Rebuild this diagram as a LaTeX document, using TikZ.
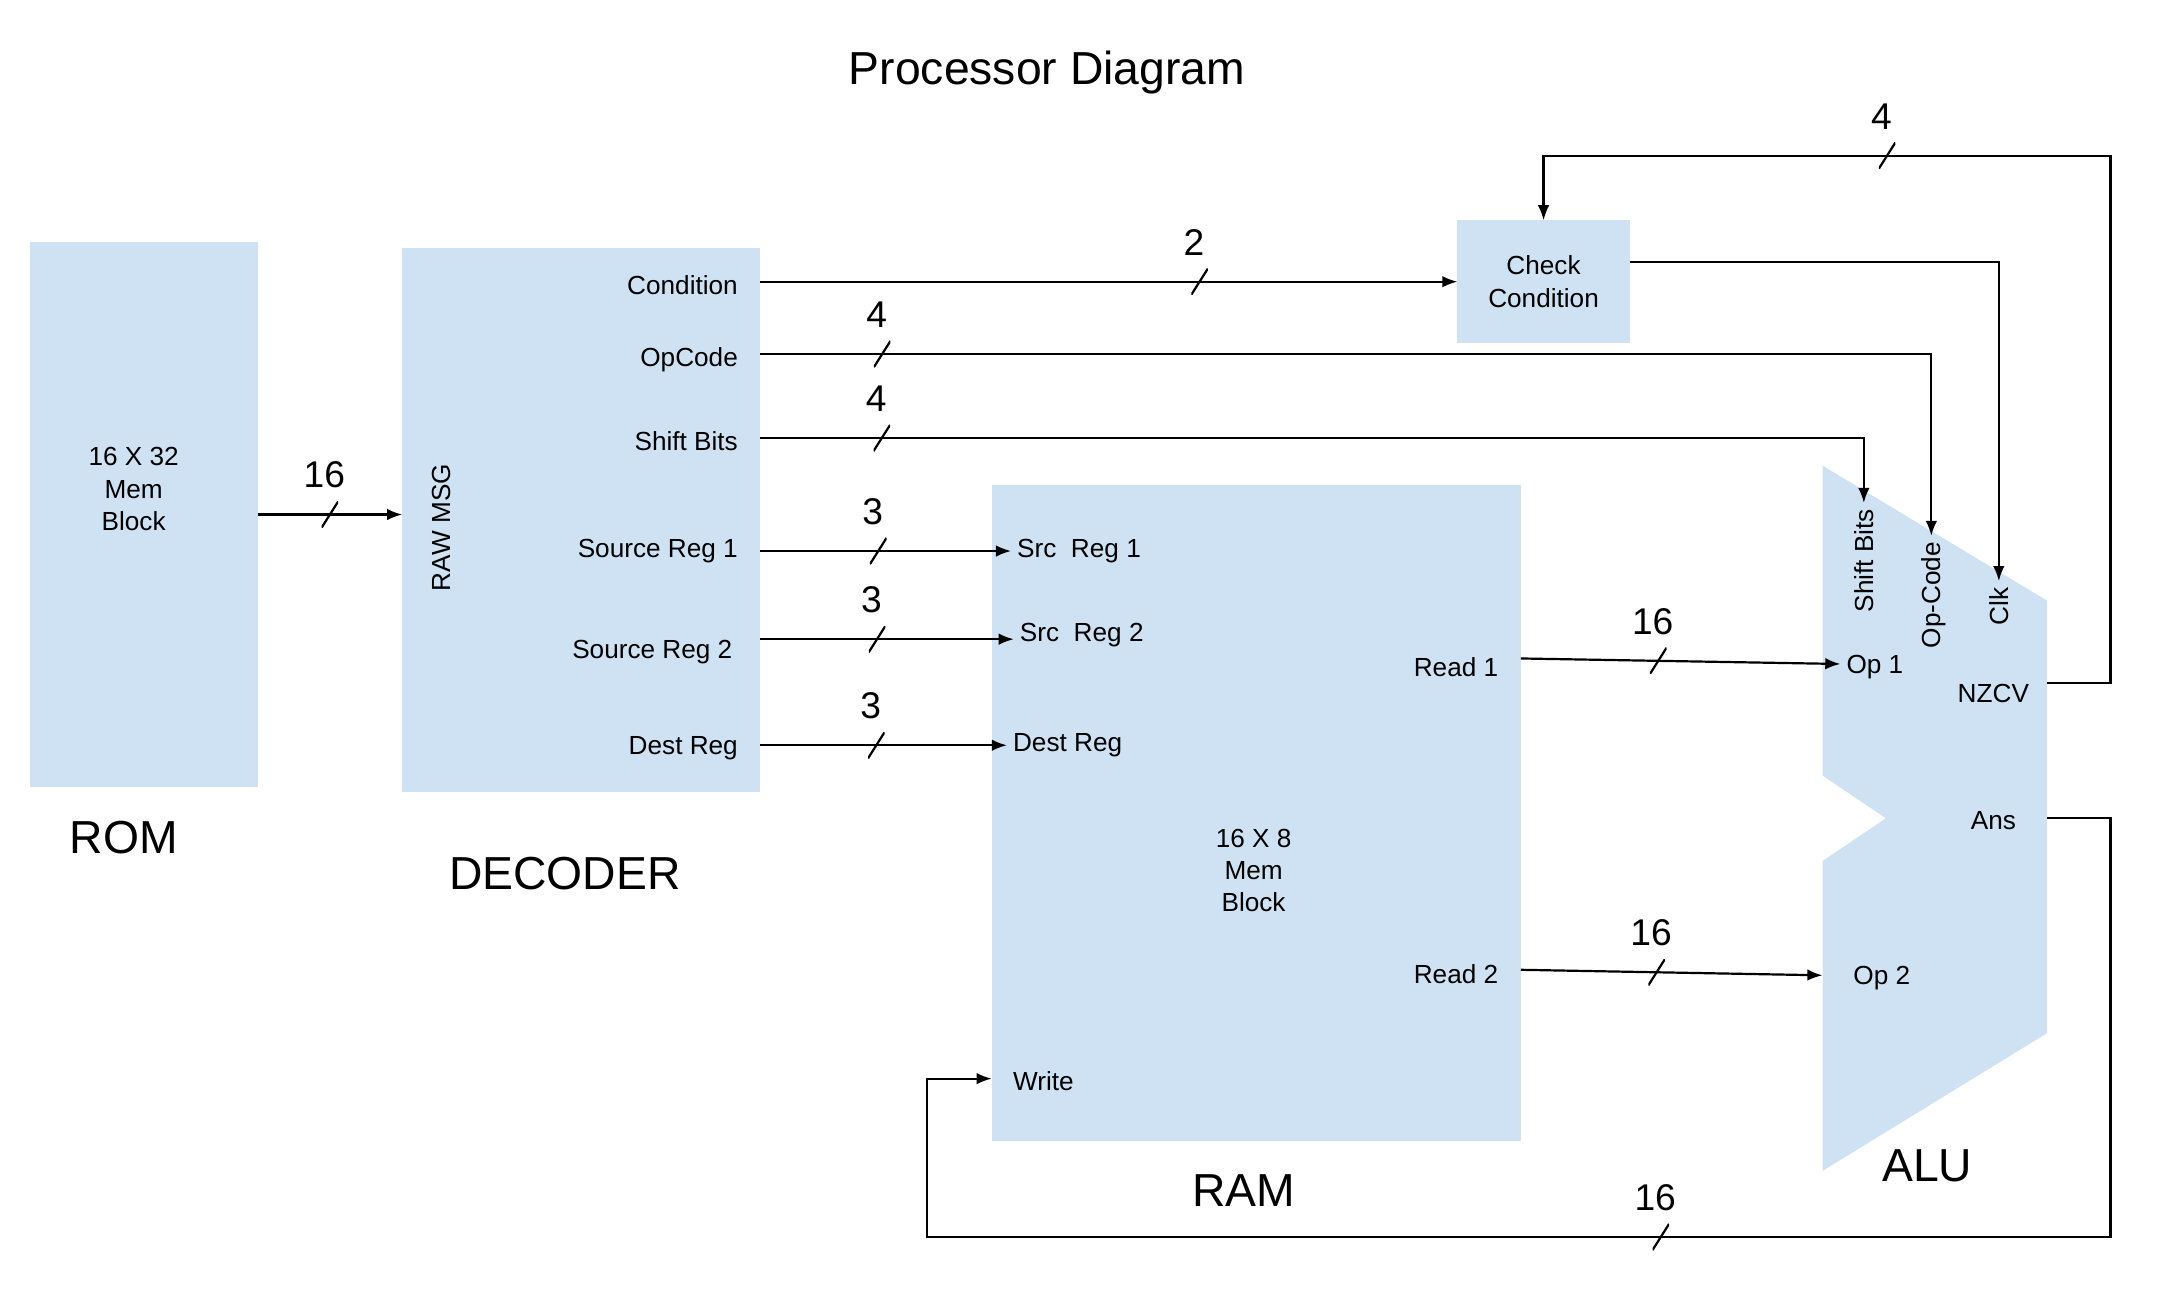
\documentclass[tikz,border=0pt]{standalone}
\usepackage{fontspec}
\setmainfont{Liberation Sans}
\usetikzlibrary{arrows.meta}
\definecolor{blockblue}{HTML}{CFE2F3}
\newcommand\lblfont{\fontsize{9.5}{11.75}\selectfont}
\newcommand\bigfont{\fontsize{16.8}{20}\selectfont}
\newcommand\bwfont{\fontsize{13.5}{15}\selectfont}

\begin{document}
\begin{tikzpicture}[x=0.5pt, y=-0.5pt,
  block/.style={fill=blockblue, inner sep=0pt, outer sep=0pt},
  lbl/.style={font=\lblfont, inner sep=2pt, text height=6.8pt, text depth=0pt},
  txt/.style={font=\lblfont, align=center},
  big/.style={font=\bigfont},
  wire/.style={line width=0.8pt, -{Latex[length=5.5pt,width=4.2pt]}},
  bus/.style={minimum width=6pt, minimum height=9.5pt, inner sep=0pt,
    path picture={\draw[line width=0.8pt, -] (path picture bounding box.south west) -- (path picture bounding box.north east);},
    label={[font=\bwfont, inner sep=1pt, xshift=-2pt, yshift=3pt]above:#1}}]
\useasboundingbox (0,0) rectangle (1568,935);

\node[big] (title) at (760,53) {Processor Diagram};

% ROM
\node[block, minimum width=82.5pt, minimum height=197.5pt] (rom) at (104.5,373.5) {};
\node[txt] (romtxt) at (97,355) {16 X 32\\Mem\\Block};
\node[big] (romname) at (90,608) {ROM};

% decoder
\node[block, minimum width=130pt, minimum height=197.5pt] (dec) at (422,377.5) {};
\node[lbl, rotate=90] (raw) at (320,383) {RAW MSG};
\node[lbl, anchor=east] (dcond) at (540,207) {Condition};
\node[lbl, anchor=east] (dop) at (540,259) {OpCode};
\node[lbl, anchor=east] (dshift) at (540,320) {Shift Bits};
\node[lbl, anchor=east] (dsr1) at (540,398) {Source Reg 1};
\node[lbl, anchor=east] (dsr2) at (536,471) {Source Reg 2};
\node[lbl, anchor=east] (ddest) at (540,541) {Dest Reg};
\node[big] (decname) at (410,634) {DECODER};

% check condition
\node[block, txt, minimum width=62.5pt, minimum height=44.5pt] (check) at (1120.5,204.5) {Check\\Condition};

% RAM
\node[block, minimum width=192pt, minimum height=238pt] (ram) at (912,590) {};
\node[lbl, anchor=west] (rsr1) at (734,398) {Src\ \ Reg 1};
\node[lbl, anchor=west] (rsr2) at (736,459) {Src\ \ Reg 2};
\node[lbl, anchor=west] (rdest) at (731,539) {Dest Reg};
\node[lbl, anchor=west] (rwrite) at (731,785) {Write};
\node[lbl, anchor=east] (rread1) at (1092,484) {Read 1};
\node[lbl, anchor=east] (rread2) at (1092,707) {Read 2};
\node[txt] (ramtxt) at (910,632) {16 X 8\\Mem\\Block};
\node[big] (ramname) at (903,864) {RAM};

% ALU
\fill[blockblue] (1323,338) -- (1486,436) -- (1486,750) -- (1323,850)
  -- (1323,625) -- (1369,594) -- (1323,563) -- cycle;
\coordinate (alu-sw) at (1323,850);
\coordinate (nzcv-out) at (1486,496);
\coordinate (ans-out) at (1486,594);
\coordinate (nzcv-top) at (1532,113);
\coordinate (ans-bot) at (1532,898);
\coordinate (wr-left) at (673,783);
\node[lbl] (aop1) at (1361,482) {Op 1};
\node[lbl] (aop2) at (1366,708) {Op 2};
\node[lbl] (anzcv) at (1447,503) {NZCV};
\node[lbl] (aans) at (1447,595) {Ans};
\node[lbl, rotate=90] (ashift) at (1353,407) {Shift Bits};
\node[lbl, rotate=90] (aopc) at (1402,432) {Op-Code};
\node[lbl, rotate=90] (aclk) at (1451,440) {Clk};
\node[big] (aluname) at (1399,846) {ALU};

% wires
\draw[wire] (rom.east) -- node[bus=16, pos=0.5] {} (rom.east -| dec.west);
\draw[wire] (dec.east |- check.west) -- node[bus=2, pos=0.63] {} (check.west);
\draw[wire] (dec.east |- 0,257) -| node[bus=4, pos=0.052] {} (aopc.east);
\draw[wire] (dec.east |- 0,318) -| node[bus=4, pos=0.055] {} (ashift.east);
\draw[wire] (dec.east |- 0,400) -- node[bus=3, pos=0.47] {} (rsr1.west |- 0,400);
\draw[wire] (dec.east |- 0,464) -- node[bus=3, pos=0.46] {} (rsr2.west |- 0,464);
\draw[wire] (dec.east |- 0,541) -- node[bus=3, pos=0.47] {} (rdest.west |- 0,541);
\draw[wire] (ram.east |- 0,478) -- node[bus=16, pos=0.43] {} (aop1.west);
\draw[wire] (ram.east |- 0,704) -- node[bus=16, pos=0.45] {} (aop2.west -| alu-sw);
\draw[wire] (check.east |- 0,190) -| (aclk.east);
\draw[wire] (nzcv-out) -| (nzcv-top) -| node[bus=4, pos=0.197] {} (check.north);
\draw[wire] (ans-out) -| (ans-bot) -| node[bus=16, pos=0.19] {} (wr-left) -- (ram.west |- wr-left);
\end{tikzpicture}
\end{document}
